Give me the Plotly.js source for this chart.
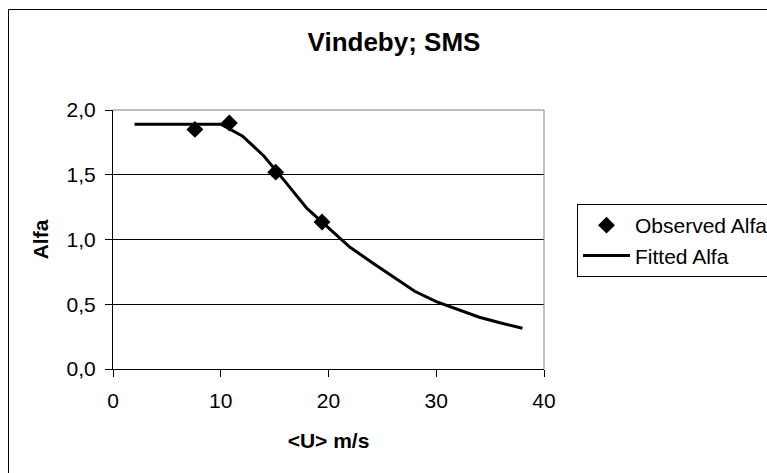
<!DOCTYPE html>
<html>
<head>
<meta charset="utf-8">
<script src="https://cdn.plot.ly/plotly-3.0.1.min.js"></script>
<style>html,body{margin:0;padding:0;background:#fff;overflow:hidden;}#wrap{width:767px;height:473px;overflow:hidden;}#chart{width:820px;height:473px;}</style>
</head>
<body>
<div id="wrap"><div id="chart"></div></div>
<script>
// Observed data
const obsU = [7.6, 10.8, 15.1, 19.4];
const obsAlfa = [1.85, 1.90, 1.52, 1.135];
// Fitted curve
const fitU = [2, 4, 6, 8, 10, 12, 14, 16, 18, 20, 22, 24, 26, 28, 30, 32, 34, 36, 38];
const fitAlfa = [1.89, 1.89, 1.89, 1.89, 1.89, 1.80, 1.645, 1.445, 1.24, 1.09, 0.94, 0.825, 0.71, 0.60, 0.52, 0.46, 0.40, 0.355, 0.315];
const xTicks = [0, 10, 20, 30, 40];
const yTicks = [0, 0.5, 1.0, 1.5, 2.0];
const chartTitle = 'Vindeby; SMS';
const xTitle = '&lt;U&gt; m/s';
const yTitle = 'Alfa';

const FONT = 'Liberation Sans, Arial, sans-serif';
const L = 113, R = 544, T = 110, B = 369, W = 820, H = 473;
const px = v => (v - L) / (R - L);
const py = v => (B - v) / (B - T);

const traces = [
  {
    x: obsU, y: obsAlfa, name: 'Observed Alfa', type: 'scatter', mode: 'markers',
    marker: {symbol: 'diamond', size: 13, color: '#000'}
  },
  {
    x: fitU, y: fitAlfa, name: 'Fitted Alfa', type: 'scatter', mode: 'lines',
    line: {color: '#000', width: 3}
  }
];

const layout = {
  width: W, height: H,
  margin: {l: L, r: W - R, t: T, b: H - B, pad: 0},
  paper_bgcolor: '#fff', plot_bgcolor: '#fff',
  font: {family: FONT, size: 21, color: '#000'},
  separators: ', ',
  title: {
    text: chartTitle, font: {family: FONT, size: 26, weight: 'bold', color: '#000'},
    xref: 'container', yref: 'container', x: 394 / W, y: 1 - 42 / H,
    xanchor: 'center', yanchor: 'middle'
  },
  xaxis: {
    range: [0, 40], tickvals: xTicks, tickformat: 'd',
    showgrid: false, zeroline: false,
    showline: true, linecolor: '#000', linewidth: 1,
    ticks: 'outside', ticklen: 7, tickcolor: '#000', tickwidth: 1,
    tickfont: {family: FONT, size: 21, color: '#000'},
    ticklabelstandoff: 6,
    title: {text: xTitle, font: {family: FONT, size: 21, weight: 'bold', color: '#000'}, standoff: 22}
  },
  yaxis: {
    range: [0, 2], tickvals: yTicks, tickformat: '.1f',
    showgrid: true, gridcolor: '#000', gridwidth: 1, zeroline: false,
    showline: true, linecolor: '#000', linewidth: 1,
    ticks: 'outside', ticklen: 7, tickcolor: '#000', tickwidth: 1,
    tickfont: {family: FONT, size: 21, color: '#000'},
    ticklabelstandoff: 5,
    title: {text: yTitle, font: {family: FONT, size: 21, weight: 'bold', color: '#000'}, standoff: 12}
  },
  showlegend: true,
  legend: {
    x: px(577), y: py(204), xanchor: 'left', yanchor: 'top',
    bgcolor: '#fff', bordercolor: '#000', borderwidth: 1,
    font: {family: FONT, size: 21, color: '#000'},
    itemwidth: 47, tracegroupgap: 0
  },
  shapes: [
    {type: 'line', xref: 'paper', yref: 'paper', x0: 0, x1: 1, y0: 1, y1: 1, line: {color: '#808080', width: 1}, layer: 'above'},
    {type: 'line', xref: 'paper', yref: 'paper', x0: 1, x1: 1, y0: 0, y1: 1, line: {color: '#808080', width: 1}, layer: 'above'},
    {type: 'rect', xref: 'paper', yref: 'paper', x0: px(8.5), x1: px(900), y0: py(520), y1: py(9.5), line: {color: '#000', width: 1}, fillcolor: 'rgba(0,0,0,0)', layer: 'below'}
  ]
};

Plotly.newPlot('chart', traces, layout, {displayModeBar: false, staticPlot: true});
</script>
</body>
</html>
